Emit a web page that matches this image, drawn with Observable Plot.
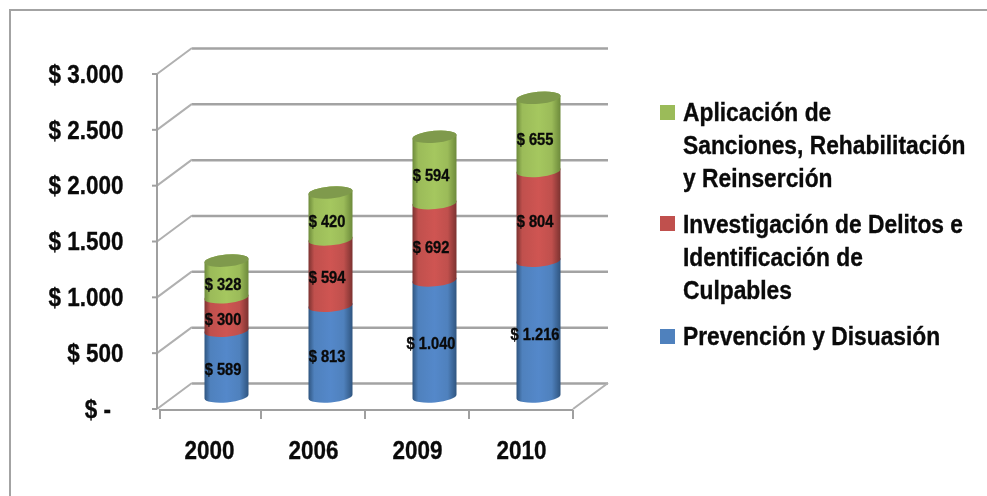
<!DOCTYPE html>
<html>
<head>
<meta charset="utf-8">
<script src="https://cdn.jsdelivr.net/npm/d3@7"></script>
<script src="https://cdn.jsdelivr.net/npm/@observablehq/plot@0.6"></script>
<style>
  html,body{margin:0;padding:0;background:#fff;}
  #wrap{position:relative;width:987px;height:496px;overflow:hidden;font-family:"Liberation Sans",Arial,sans-serif;filter:blur(.35px);}
  #wrap svg{position:absolute;left:0;top:0;}
  #wrap svg text{stroke:#0a0a0a;stroke-width:.35px;}
  .frameT{position:absolute;left:9px;top:9px;right:0;height:2px;background:#a3a3a3;}
  .frameL{position:absolute;left:9px;top:9px;bottom:0;width:2px;background:#a3a3a3;}
  .sw{position:absolute;left:660px;width:15px;height:15px;}
  .lg{position:absolute;left:683px;font-weight:700;font-size:25px;line-height:33px;color:#0a0a0a;white-space:pre;transform:scaleX(.912);transform-origin:left top;-webkit-text-stroke:.35px #0a0a0a;}
</style>
</head>
<body>
<div id="wrap"><div class="frameT"></div><div class="frameL"></div></div>
<script>
const years = ["2000","2006","2009","2010"];
const seriesNames = ["Prevención y Disuasión","Investigación de Delitos e Identificación de Culpables","Aplicación de Sanciones, Rehabilitación y Reinserción"];
const prevencion = [589,813,1040,1216];
const investigacion = [300,594,692,804];
const aplicacion = [328,420,594,655];
const baseColors = ["#4f81bd","#c0504d","#9bbb59"];
const brightColors = ["#5488ca","#cf5552","#a5c75f"];
const darkColors = ["#2f5580","#7c3230","#6d8a3b"];
const capColor = "#7f9a4c";
const yTicks = [0,500,1000,1500,2000,2500,3000];
const legendLines = [
  ["Aplicación de\nSanciones, Rehabilitación\ny Reinserción",105,"#9bbb59",96],
  ["Investigación de Delitos e\nIdentificación de\nCulpables",216,"#c0504d",208],
  ["Prevención y Disuasión",329,"#4f81bd",320]
];

const values = [prevencion,investigacion,aplicacion];
const table = seriesNames.flatMap((s,i)=>years.map((y,j)=>({year:y,series:s,value:values[i][j]})));
const totals = years.map((y,j)=>({year:y,total:values[0][j]+values[1][j]+values[2][j]}));
const fmt = v => v===0 ? "$ -\u00a0\u00a0" : "$ " + d3.format(",")(v).replace(/,/g,".");

const DEPTH_X = 35, DEPTH_Y = -26, BAR_DX = 17.5, BAR_DY = -12.5, TILT = 5*Math.PI/180, RY = 6;
const GRID = "#a3a3a3";

function cylRender(index, scales, vals, dims, ctx, next){
  const g = next(index, scales, vals, dims, ctx);
  g.querySelectorAll("rect").forEach(r=>{
    const x=+r.getAttribute("x"), w=+r.getAttribute("width"), yt=+r.getAttribute("y"), yb=yt+ +r.getAttribute("height");
    const rx=(w/2)/Math.cos(TILT), t=rx*Math.sin(TILT), deg=-TILT*180/Math.PI;
    const p=document.createElementNS("http://www.w3.org/2000/svg","path");
    p.setAttribute("d",`M${x},${yb+t}A${rx},${RY},${deg},0,0,${x+w},${yb-t}L${x+w},${yt-t}A${rx},${RY},${deg},0,0,${x},${yt+t}Z`);
    const f=r.getAttribute("fill"); if(f) p.setAttribute("fill",f);
    r.replaceWith(p);
  });
  return g;
}

const depthLines = (index,{y},vals,{marginLeft,width,marginRight})=>{
  const left=marginLeft, right=width-marginRight;
  const g=d3.create("svg:g").attr("fill","none").attr("stroke","#b0b0b0").attr("stroke-width",2);
  g.selectAll("path.d").data(yTicks).join("path")
    .attr("d",v=>`M${left},${y(v)}L${left+DEPTH_X},${y(v)+DEPTH_Y}`);
  g.append("path").attr("d",`M${right},${y(0)}L${right+DEPTH_X},${y(0)+DEPTH_Y}`);
  return g.node();
};
const frontAxes = (index,{x,y},vals,{marginLeft,width,marginRight})=>{
  const left=marginLeft, right=width-marginRight, step=x.step();
  const g=d3.create("svg:g").attr("fill","none").attr("stroke","#a0a0a0").attr("stroke-width",2);
  g.append("path").attr("d",`M${left},${y(3000)}L${left},${y(0)}`);
  g.append("path").attr("d",`M${left+2},${y(0)+1}L${right},${y(0)+1}`);
  g.selectAll("path.t").data(yTicks).join("path").attr("d",v=>`M${left-5},${y(v)}L${left},${y(v)}`);
  g.selectAll("path.x").data(years.concat([null])).join("path").attr("d",(d,i)=>{
    const px = left + (i===0?3:0) + i*step;
    return `M${px},${y(0)+1}L${px},${y(0)+10}`;
  });
  return g.node();
};
const caps = (index,{x,y})=>{
  const g=d3.create("svg:g");
  g.selectAll("ellipse").data(totals).join("ellipse")
    .attr("transform",d=>`translate(${x(d.year)+x.bandwidth()/2+BAR_DX},${y(d.total)+BAR_DY}) rotate(${-TILT*180/Math.PI})`)
    .attr("rx",x.bandwidth()/2/Math.cos(TILT)).attr("ry",RY).attr("fill",capColor);
  return g.node();
};

const chart = Plot.plot({
  width:987, height:496,
  marginLeft:157, marginRight:414, marginTop:74, marginBottom:87,
  style:{background:"transparent",fontFamily:'"Liberation Sans",Arial,sans-serif'},
  x:{domain:years,type:"band",paddingInner:0.577,paddingOuter:0.2885,label:null},
  y:{domain:[0,3000],label:null},
  color:{type:"ordinal",domain:seriesNames,range:[0,1,2].map(i=>`url(#cyl${i})`)},
  marks:[
    Plot.ruleY(yTicks,{dx:DEPTH_X,dy:DEPTH_Y,stroke:GRID,strokeWidth:2.5}),
    depthLines,
    frontAxes,
    Plot.barY(table,{x:"year",y:"value",z:"series",fill:"series",dx:BAR_DX,dy:BAR_DY,render:cylRender}),
    caps,
    Plot.text(table,Plot.stackY({x:"year",y:"value",z:"series",text:d=>fmt(d.value),dx:13.5,dy:-7.5,fontSize:17,fontWeight:700,fill:"#0a0a0a"})),
    Plot.axisY({ticks:yTicks,tickFormat:fmt,tickSize:0,tickPadding:34,fontSize:26,fontWeight:700,fill:"#0a0a0a",label:null}),
    Plot.axisX({tickSize:0,tickPadding:31,fontSize:26,fontWeight:700,fill:"#0a0a0a",label:null})
  ]
});

// Condense the chart's text: the reference uses a narrow bold face.
chart.querySelectorAll("text").forEach(t=>{
  t.setAttribute("transform",(t.getAttribute("transform")||"")+" scale(.865,1)");
});

const defs=d3.select(chart).insert("defs",":first-child");
[0,1,2].forEach(i=>{
  const gr=defs.append("linearGradient").attr("id",`cyl${i}`).attr("x1",0).attr("x2",1).attr("y1",0).attr("y2",0);
  [[0,darkColors[i]],[0.13,baseColors[i]],[0.5,brightColors[i]],[0.8,baseColors[i]],[1,darkColors[i]]]
    .forEach(([o,c])=>gr.append("stop").attr("offset",o).attr("stop-color",c));
});
const wrap=document.getElementById("wrap");
wrap.appendChild(chart);
legendLines.forEach(([t,sy,c,ty])=>{
  const s=document.createElement("div"); s.className="sw"; s.style.top=sy+"px"; s.style.background=c; wrap.appendChild(s);
  const l=document.createElement("div"); l.className="lg"; l.style.top=ty+"px"; l.textContent=t; wrap.appendChild(l);
});
</script>
</body>
</html>
